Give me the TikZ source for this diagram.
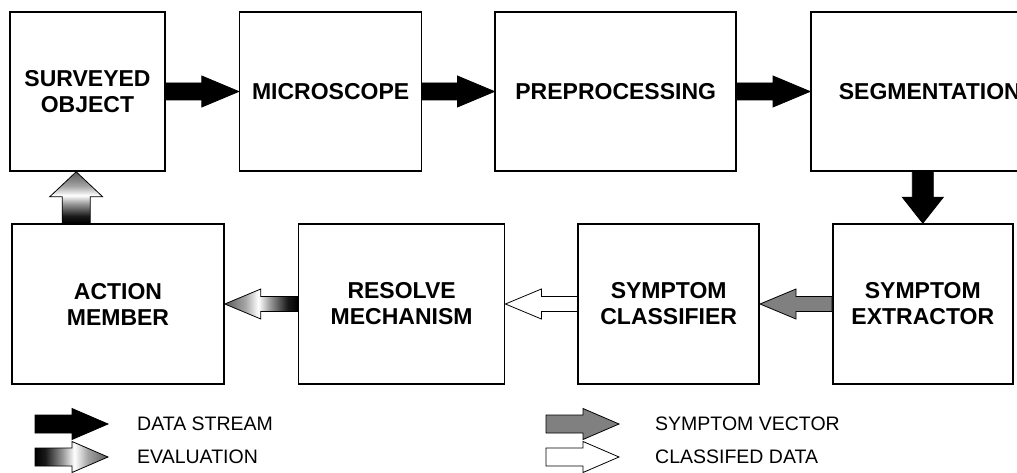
\documentclass[tikz,border=0pt]{standalone}
\usepackage{fontspec}
\setmainfont{Liberation Sans}
\usetikzlibrary{positioning,calc}
\definecolor{vecgray}{RGB}{128,128,128}
\pgfdeclarehorizontalshading{evalshade}{100bp}{color(0bp)=(black); color(25bp)=(black); color(32bp)=(black!90); color(44bp)=(black!40); color(52bp)=(white); color(61bp)=(black!35); color(75bp)=(black!65); color(100bp)=(black!65)}
\tikzset{
    blockbox/.style={draw=black, line width=1.6pt, fill=white, minimum height=159pt, inner sep=0pt, align=center, font=\bfseries\fontsize{23}{26}\selectfont},
    legendtext/.style={anchor=west, inner sep=0pt, font=\fontsize{19.5}{21}\selectfont},
    % block arrow from start to target: shaft half width, head half width, head length
    fat/.style n args={3}{to path={let \p1=(\tikztostart), \p2=(\tikztotarget),
        \n1={atan2(\y2-\y1,\x2-\x1)}, \n2={veclen(\x2-\x1,\y2-\y1)} in
        {[shift={(\p1)}, rotate=\n1]
        (0pt,-#1) -- ({\n2-#3},-#1) -- ({\n2-#3},-#2) -- ({\n2+0pt},0pt) -- ({\n2-#3},#2) -- ({\n2-#3},#1) -- (0pt,#1) -- cycle}}},
    stream/.style={draw=black, fill=black, line width=0.8pt},
    symptomvec/.style={draw=black, fill=vecgray, line width=0.8pt},
    classified/.style={draw=black, fill=white, line width=0.8pt},
    evaluation/.style={draw=black, shade, shading=evalshade, line width=0.8pt}
}
\begin{document}
\begin{tikzpicture}[x=1pt, y=-1pt]
    \fill[white] (0,0) rectangle (1017,473);
    \useasboundingbox (0,0) rectangle (1017,473);

    % Draw the upper row of blocks
    \node[blockbox, minimum width=155pt] (surveyed) at (87.5,91.5) {SURVEYED\\OBJECT};
    \node[blockbox, minimum width=182pt, right=73pt of surveyed] (microscope) {MICROSCOPE};
    \node[blockbox, minimum width=241pt, right=72pt of microscope] (preprocessing) {PREPROCESSING};
    \node[blockbox, minimum width=238pt, right=73pt of preprocessing] (segmentation) {SEGMENTATION};

    % Draw the lower row of blocks
    \node[blockbox, minimum width=212pt, minimum height=160pt] (action) at (118,304) {ACTION\\MEMBER};
    \node[blockbox, minimum width=206pt, minimum height=160pt, right=73pt of action] (resolve) {RESOLVE\\MECHANISM};
    \node[blockbox, minimum width=181pt, minimum height=160pt, right=72pt of resolve] (classifier) {SYMPTOM\\CLASSIFIER};
    \node[blockbox, minimum width=180pt, minimum height=160pt, right=72pt of classifier] (extractor) {SYMPTOM\\EXTRACTOR};

    % Data stream arrows
    \draw[fat={8.5pt}{15.5pt}{37pt}, stream] (surveyed.east) to (microscope.west);
    \draw[fat={8.5pt}{15.5pt}{37pt}, stream] (microscope.east) to (preprocessing.west);
    \draw[fat={8.5pt}{15.5pt}{37pt}, stream] (preprocessing.east) to (segmentation.west);
    \draw[fat={10.5pt}{20.5pt}{26pt}, stream] (extractor.north |- segmentation.south) to (extractor.north);

    % Symptom vector, classified data and evaluation arrows
    \draw[fat={7.5pt}{15pt}{36pt}, symptomvec] (extractor.west) to (classifier.east);
    \draw[fat={7.5pt}{15pt}{36pt}, classified] (classifier.west) to (resolve.east);
    \draw[fat={7.5pt}{15pt}{36pt}, evaluation, shading angle=180] (resolve.west) to (action.east);
    \coordinate (feedback) at ($(action.north west)+(65,0)$);
    \draw[fat={14pt}{26.5pt}{25pt}, evaluation, shading angle=90] (feedback) to (feedback |- surveyed.south);

    % Draw the legend
    \foreach \name/\sty/\ax/\tx/\ly/\txt in {
        lstream/stream/35/137/424/DATA STREAM,
        leval/evaluation/35/137/457/EVALUATION,
        lvector/symptomvec/546/655/424/SYMPTOM VECTOR,
        lclass/classified/546/655/457/CLASSIFED DATA} {
        \coordinate (\name-tail) at (\ax,\ly);
        \draw[fat={9pt}{15.5pt}{36pt}, \sty] (\name-tail) to ($(\name-tail)+(73,0)$);
        \node[legendtext] (\name) at (\tx,\ly) {\txt};
    }
\end{tikzpicture}
\end{document}
